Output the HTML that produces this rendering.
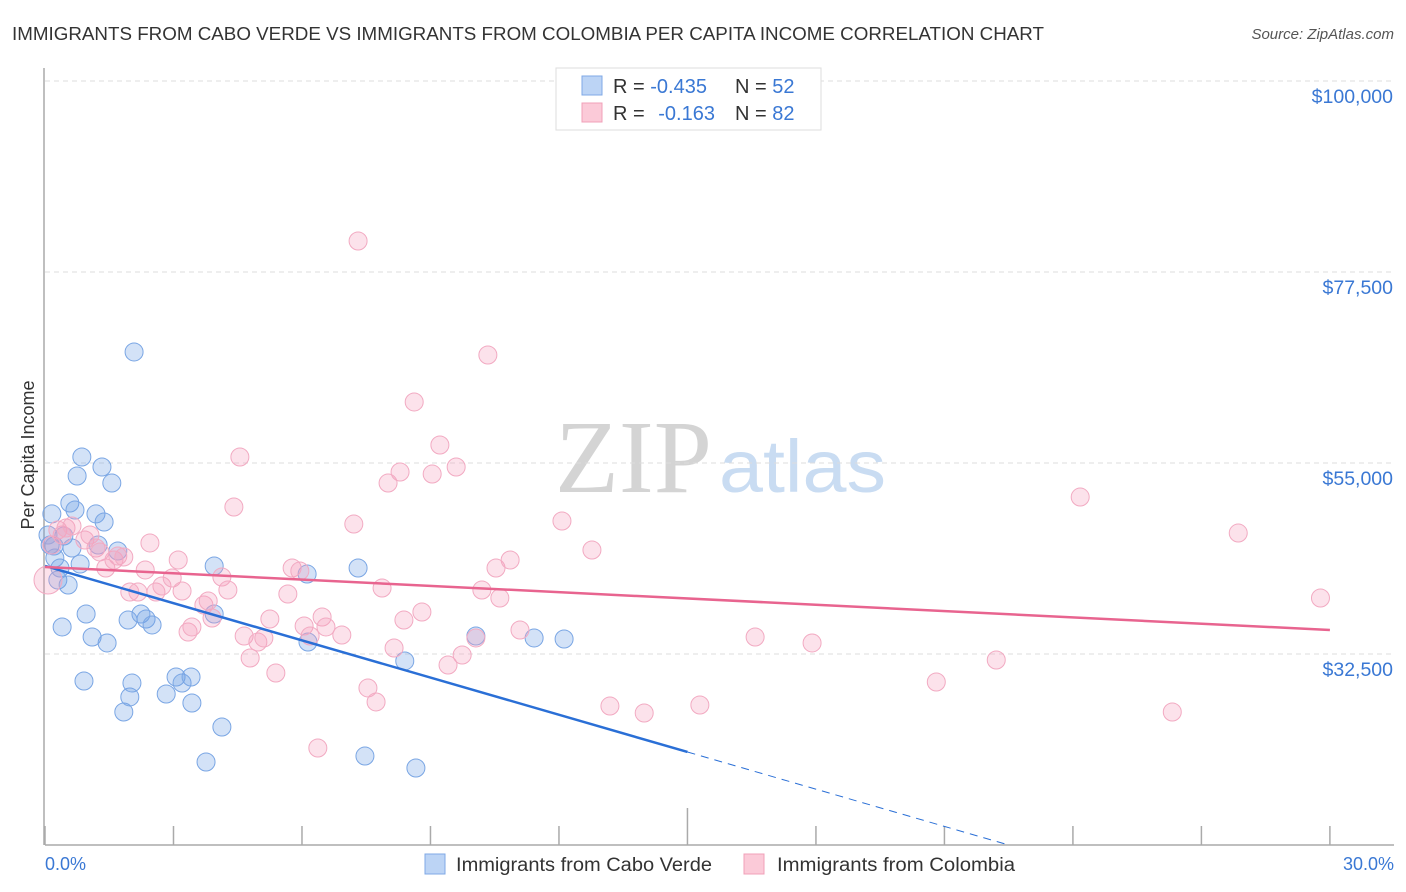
<!DOCTYPE html>
<html><head><meta charset="utf-8"><style>
body{margin:0;background:#fff;font-family:"Liberation Sans",sans-serif;}
#wrap{position:relative;width:1406px;height:892px;overflow:hidden;}
</style></head><body>
<div id="wrap">
<svg id="svg" width="1406" height="892" xmlns="http://www.w3.org/2000/svg">
<text x="12" y="40" font-size="18" fill="#333" textLength="1032" lengthAdjust="spacingAndGlyphs">IMMIGRANTS FROM CABO VERDE VS IMMIGRANTS FROM COLOMBIA PER CAPITA INCOME CORRELATION CHART</text>
<text x="1394" y="39" font-size="15" fill="#555" font-style="italic" text-anchor="end">Source: ZipAtlas.com</text>
<text x="712" y="492" font-size="104" fill="#d4d4d4" text-anchor="end" textLength="157" lengthAdjust="spacingAndGlyphs" font-family="Liberation Serif, serif">ZIP</text>
<text x="719" y="492" font-size="74" fill="#c9dcf2" textLength="167" lengthAdjust="spacingAndGlyphs">atlas</text>
<text transform="translate(34,455) rotate(-90)" font-size="18" fill="#333" text-anchor="middle">Per Capita Income</text>
<g id="grid"></g><g id="axes"></g><g id="pts"></g><g id="trend"></g>
<g>
<rect x="556" y="68" width="265" height="62" fill="#fff" stroke="#ddd"/>
<rect x="582" y="76" width="20" height="19" fill="#bcd4f5" stroke="#7fa8e6"/>
<rect x="582" y="103" width="20" height="19" fill="#fbcad8" stroke="#f0a0b8"/>
<text x="613" y="93" font-size="20" fill="#333">R = <tspan fill="#3a78d4">-0.435</tspan><tspan x="735">N = </tspan><tspan fill="#3a78d4">52</tspan></text>
<text x="613" y="120" font-size="20" fill="#333">R = <tspan fill="#3a78d4" dx="8">-0.163</tspan><tspan x="735">N = </tspan><tspan fill="#3a78d4">82</tspan></text>
</g>
<g>
<rect x="425" y="854" width="20" height="20" fill="#bcd4f5" stroke="#7fa8e6"/>
<text x="456" y="871" font-size="19" fill="#333" textLength="256" lengthAdjust="spacingAndGlyphs">Immigrants from Cabo Verde</text>
<rect x="744" y="854" width="20" height="20" fill="#fbcad8" stroke="#f0a0b8"/>
<text x="777" y="871" font-size="19" fill="#333" textLength="238" lengthAdjust="spacingAndGlyphs">Immigrants from Colombia</text>
</g>
<text x="45" y="870" font-size="18" fill="#3a78d4">0.0%</text>
<text x="1394" y="870" font-size="18" fill="#3a78d4" text-anchor="end">30.0%</text>
</svg></div>
<script>
const yTicks=[100000,77500,55000,32500];
const yTickLabels=["$100,000","$77,500","$55,000","$32,500"];
const caboX=[0.16,0.12,0.23,0.30,0.35,0.44,0.54,0.58,0.63,0.70,0.75,0.82,0.86,0.96,0.40,0.91,1.10,1.19,1.24,1.33,1.38,1.45,1.56,1.70,1.84,1.94,1.98,2.03,2.08,2.24,2.36,2.50,2.83,3.06,3.20,3.41,3.43,3.76,3.95,3.95,4.13,6.12,6.14,7.31,7.47,8.40,8.66,10.06,11.42,12.12,0.21,0.07];
const caboY=[49000,45340,43810,41220,42630,46400,40630,50290,44990,49460,53470,43100,55710,37210,35680,29320,34500,49000,45340,54530,48050,33800,52640,44630,25670,36500,27440,29080,68080,37210,36620,35920,27790,29790,29080,29790,26730,19780,42870,37210,23900,41920,33910,42630,20480,31680,19070,34620,34390,34270,45220,46520];
const colX=[0.07,0.16,0.30,0.40,0.49,0.63,0.93,1.05,1.19,1.28,1.42,1.61,1.70,1.84,1.98,2.17,2.34,2.45,2.59,2.73,2.97,3.11,3.20,3.34,3.43,3.71,3.81,3.90,4.13,4.27,4.41,4.55,4.65,4.79,4.97,5.11,5.25,5.39,5.67,5.77,5.95,6.05,6.19,6.37,6.47,6.56,6.93,7.21,7.31,7.54,7.73,7.87,8.01,8.15,8.29,8.38,8.62,8.80,9.04,9.22,9.41,9.60,9.74,10.06,10.20,10.34,10.53,10.62,10.86,11.09,12.07,12.77,13.19,13.99,15.29,16.58,17.91,20.81,22.21,24.17,26.32,27.86,29.78];
const colY=[41220,45340,47110,46520,47340,47580,45930,46520,44990,44520,42630,43570,44040,43930,39800,39800,42400,45580,39800,40510,41450,43570,39920,35090,35680,38270,38740,36740,41570,40040,49820,55710,34620,32030,33910,34390,36620,30260,39570,42630,42280,35800,34620,21430,36860,35680,34740,47810,81150,28500,26850,40270,52640,33210,53940,36500,62190,37450,53700,57120,31200,54530,32380,34390,40040,67720,42630,39100,43570,35330,48170,44750,26370,25550,26490,34500,33800,29200,31790,50990,25670,46750,39100];
const caboTrend=[[0,42870],[15,20960],[22.5,10000]];
const colTrend=[[0,42750],[30,35330]];
const NS="http://www.w3.org/2000/svg";
const X=p=>45+p*42.83;
const Y=v=>463-(v-55000)*191/22500;
function mk(t,a,parent){const e=document.createElementNS(NS,t);for(const k in a)e.setAttribute(k,a[k]);document.getElementById(parent).appendChild(e);return e;}
yTicks.forEach((v,i)=>{
 const l=mk('line',{x1:45,x2:1394,y1:Y(v),y2:Y(v),stroke:'#ddd','stroke-dasharray':'5,4'},'grid');
 
 
 const t=mk('text',{x:1393,y:Y(v)+22,'font-size':19.5,fill:'#3a78d4','text-anchor':'end'},'grid');
 t.textContent=yTickLabels[i];
 
 
});
const ax=mk('line',{x1:45,x2:1394,y1:845,y2:845,stroke:'#aaa','stroke-width':1.5},'axes');


const ay=mk('line',{x1:44,x2:44,y1:68,y2:845,stroke:'#aaa','stroke-width':1.5},'axes');


for(let i=0;i<=10;i++){
 const tk=mk('line',{x1:X(i*3),x2:X(i*3),y1:i==5?808:826,y2:845,stroke:'#aaa','stroke-width':1.5},'axes');
 
 
}
caboX.forEach((x,i)=>{
 const c=mk('circle',{cx:X(x),cy:Y(caboY[i]),r:9,fill:'rgba(110,160,230,0.3)',stroke:'#7aa6e4','stroke-width':1},'pts');
 
 
});
colX.forEach((x,i)=>{
 const c=mk('circle',{cx:X(x),cy:Y(colY[i]),r:i==0?14:9,fill:'rgba(245,160,190,0.3)',stroke:'#f2aac2','stroke-width':1},'pts');
 
 
});
const b1=mk('line',{x1:X(caboTrend[0][0]),y1:Y(caboTrend[0][1]),x2:X(caboTrend[1][0]),y2:Y(caboTrend[1][1]),stroke:'#2a6fd6','stroke-width':2.5},'trend');


const b2=mk('line',{x1:X(caboTrend[1][0]),y1:Y(caboTrend[1][1]),x2:X(caboTrend[2][0]),y2:Y(caboTrend[2][1]),stroke:'#2a6fd6','stroke-width':1,'stroke-dasharray':'8,6'},'trend');


const p1=mk('line',{x1:X(colTrend[0][0]),y1:Y(colTrend[0][1]),x2:X(colTrend[1][0]),y2:Y(colTrend[1][1]),stroke:'#e8648f','stroke-width':2.5},'trend');


</script>
</body></html>
